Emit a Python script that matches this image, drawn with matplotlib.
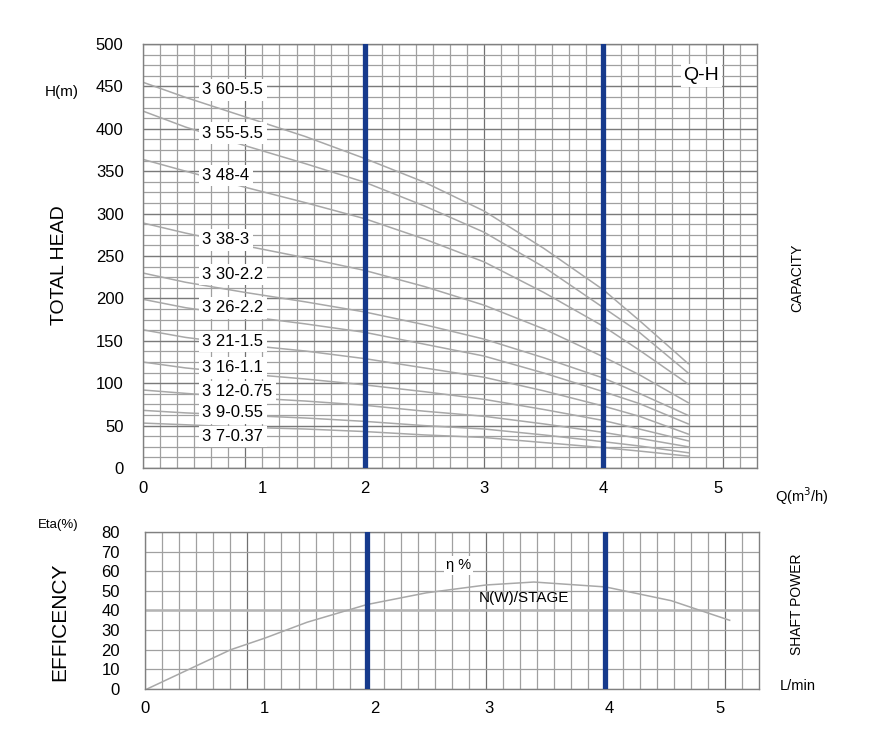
import numpy as np
import matplotlib
matplotlib.use("Agg")
from matplotlib import pyplot as plt

plt.rcParams['font.family'] = ['Liberation Sans', 'DejaVu Sans']

# Q-H curves, Q in m3/h, H in m
q_pts = [0.14, 0.5, 1.0, 1.5, 2.0, 2.5, 3.0, 3.5, 4.0, 4.3, 4.71]
models = ['3 60-5.5', '3 55-5.5', '3 48-4', '3 38-3', '3 30-2.2', '3 26-2.2',
          '3 21-1.5', '3 16-1.1', '3 12-0.75', '3 9-0.55', '3 7-0.37']
h_60 = [455, 437, 414, 391, 365, 337, 303, 259, 210, 174, 123]
h_55 = [421, 402, 380, 359, 337, 309, 278, 237, 189, 160, 112]
h_48 = [364, 350, 331, 313, 294, 270, 243, 207, 167, 139, 99]
h_38 = [289, 277, 262, 248, 233, 214, 192, 164, 131, 110, 77]
h_30 = [230, 219, 207, 196, 184, 169, 152, 130, 106, 88, 62]
h_26 = [199, 189, 179, 170, 160, 146, 132, 112, 90, 76, 52]
h_21 = [163, 154, 145, 138, 129, 118, 107, 91, 73, 61, 40]
h_16 = [125, 118, 111, 105, 98, 90, 81, 69, 56, 46, 32]
h_12 = [92, 88, 83, 79, 74, 67, 61, 52, 42, 35, 25]
h_9 = [68, 65, 62, 59, 55, 50, 46, 39, 31, 26, 18]
h_7 = [53, 51, 48, 46, 43, 39, 36, 30, 24, 20, 14]
heads = [h_60, h_55, h_48, h_38, h_30, h_26, h_21, h_16, h_12, h_9, h_7]
label_h = [446, 395, 345, 269, 228, 189, 149, 118, 90, 65, 37]

# efficiency curve
q_eta = [0.16, 0.3, 0.86, 1.15, 1.5, 2.0, 2.5, 3.0, 3.4, 4.0, 4.55, 5.04]
eta = [0, 4, 20, 26, 34, 43, 49, 53, 54.5, 52, 45, 35]

xlim = (1 / 7, 37 / 7)
top_ticks = [1 / 7, 8 / 7, 2, 3, 4, 4.96]
bot_ticks = [1 / 7, 8 / 7, 2.07, 3.02, 4.03, 4.96]
tick_labels = ['0', '1', '2', '3', '4', '5']
blue_q = [2, 4]

GRID = '#a0a0a0'
CURVE = '#a8a8a8'
BLUE = '#163a8c'


def draw_grid(ax, ystep):
    ymin, ymax = ax.get_ylim()
    for k in range(1, 37):
        x = k / 7
        c = '#707070' if k % 7 == 0 else GRID
        ax.axvline(x, color=c, lw=0.9, zorder=1)
    for y in np.arange(ymin, ymax + 0.01, ystep):
        ax.axhline(y, color=GRID, lw=0.9, zorder=1)
    for s in ax.spines.values():
        s.set_color('#808080')
        s.set_linewidth(1.0)
    ax.tick_params(length=0, labelsize=12, pad=6)


fig = plt.figure(figsize=(8.7, 7.43), dpi=100)

# ---- Q-H chart
ax = fig.add_axes([0.1644, 0.3701, 0.7057, 0.5707])
ax.set_xlim(*xlim)
ax.set_ylim(0, 500)
draw_grid(ax, 12.5)
for y in range(0, 501, 50):
    ax.axhline(y, color='#7a7a7a', lw=0.9, zorder=1)
for q in blue_q:
    ax.axvline(q, color=BLUE, lw=3.8, zorder=3)
for name, h, lh in zip(models, heads, label_h):
    ax.plot(q_pts, h, color=CURVE, lw=1.1, zorder=2)
    ax.text(0.64, lh, name, fontsize=12, va='center', ha='left', zorder=4,
            bbox=dict(boxstyle='square,pad=0.2', fc='white', ec='none'))
ax.text(4.82, 463, 'Q-H', fontsize=14, ha='center', va='center', zorder=4,
        bbox=dict(boxstyle='square,pad=0.15', fc='white', ec='none'))
ax.set_yticks(range(0, 501, 50))
ax.set_xticks(top_ticks)
ax.set_xticklabels(tick_labels)
ax.tick_params(axis='x', pad=9)
ax.tick_params(axis='y', pad=14)

fig.text(45 / 870, 1 - 92 / 743, 'H(m)', fontsize=11, ha='left', va='center')
fig.text(60 / 870, 1 - 265 / 743, 'TOTAL HEAD', fontsize=14, rotation=90,
         ha='center', va='center')
fig.text(797 / 870, 1 - 278 / 743, 'CAPACITY', fontsize=10, rotation=90,
         ha='center', va='center')
fig.text(775 / 870, 1 - 496 / 743, 'Q(m$^3$/h)', fontsize=10.5, ha='left', va='center')

# ---- efficiency chart
ax2 = fig.add_axes([0.1667, 0.0727, 0.7057, 0.2113])
ax2.set_xlim(*xlim)
ax2.set_ylim(0, 80)
draw_grid(ax2, 10)
ax2.axhline(40, color='#b4b4b4', lw=1.8, zorder=1)
for q in blue_q:
    ax2.axvline(q, color=BLUE, lw=3.8, zorder=3)
ax2.plot(q_eta, eta, color=CURVE, lw=1.1, zorder=2)
ax2.text(2.77, 63, '\u03b7 %', fontsize=10.5, ha='center', va='center', zorder=4,
         bbox=dict(boxstyle='square,pad=0.15', fc='white', ec='none'))
ax2.text(2.94, 46.5, 'N(W)/STAGE', fontsize=11, ha='left', va='center', zorder=4)
ax2.set_yticks(range(0, 81, 10))
ax2.set_xticks(bot_ticks)
ax2.set_xticklabels(tick_labels)
ax2.tick_params(axis='y', pad=18)
ax2.tick_params(axis='x', pad=9)

fig.text(38 / 870, 1 - 525 / 743, 'Eta(%)', fontsize=9.5, ha='left', va='center')
fig.text(60 / 870, 1 - 622 / 743, 'EFFICENCY', fontsize=15, rotation=90,
         ha='center', va='center')
fig.text(797 / 870, 1 - 604 / 743, 'SHAFT POWER', fontsize=10, rotation=90,
         ha='center', va='center')
fig.text(780 / 870, 1 - 686 / 743, 'L/min', fontsize=10.5, ha='left', va='center')

fig.savefig('out.png', dpi=100)
